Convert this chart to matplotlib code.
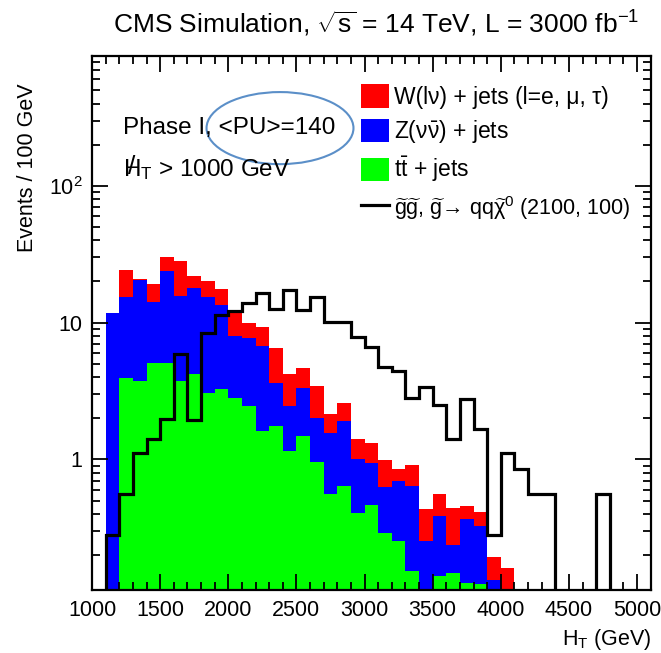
import numpy as np
import matplotlib
matplotlib.use('Agg')
import matplotlib.pyplot as plt
from matplotlib.patches import Patch, Ellipse
from matplotlib.lines import Line2D
from matplotlib.ticker import FixedLocator, LogLocator, MultipleLocator, NullFormatter

# HT binning: 100 GeV bins from 1000 to 5100 GeV
bin_edges = np.arange(1000, 5101, 100)

# Background yields per bin (events / 100 GeV)
ttbar = [0, 0, 3.91, 3.74, 5.03, 5.03, 3.74, 4.18, 3.07, 3.25,
         2.79, 2.46, 1.61, 1.76, 1.15, 1.49, 0.96, 0.555, 0.638, 0.403,
         0.463, 0.291, 0.254, 0.153, 0, 0.141, 0.148, 0.124, 0.122, 0,
         0, 0, 0, 0, 0, 0, 0, 0, 0, 0, 0]
zinv = [0, 11.8, 11.49, 16.76, 9.17, 18.77, 11.86, 13.82, 12.23, 10.15,
        5.18, 5.2, 5.12, 1.87, 1.30, 1.81, 1.05, 1.005, 1.267, 0.602,
        0.472, 0.333, 0.444, 0.488, 0.254, 0.244, 0.088, 0.24, 0.203, 0.131,
        0, 0, 0, 0, 0, 0, 0, 0, 0, 0, 0]
wjets = [0, 0, 8.8, 0.5, 4.9, 6.5, 12.7, 3.9, 4.9, 4.2,
         4.03, 2.31, 2.49, 2.91, 1.75, 1.33, 1.42, 0.58, 0.665, 0.395,
         0.385, 0.366, 0.147, 0.267, 0.177, 0.17, 0.207, 0.092, 0.085, 0.061,
         0.16, 0, 0, 0, 0, 0, 0, 0, 0, 0, 0]

# Gluino pair signal, m(gluino)=2100, m(LSP)=100
signal = [0, 0.28, 0.557, 1.12, 1.40, 1.96, 5.85, 1.94, 8.34, 11.3,
          12.2, 13.9, 16.5, 12.5, 17.3, 12.3, 15.4, 10.1, 10.1, 7.8,
          6.65, 4.75, 4.44, 2.79, 3.39, 2.49, 1.40, 2.78, 1.67, 0.28,
          1.12, 0.85, 0.557, 0.557, 0, 0, 0, 0.557, 0, 0, 0]

y_ticks = [1, 10, 100]
y_ticklabels = ['1', '10', '10$^{2}$']

plt.rcParams['font.family'] = ['Liberation Sans', 'DejaVu Sans']
plt.rcParams['mathtext.fontset'] = 'custom'
plt.rcParams['mathtext.rm'] = 'Liberation Sans'
plt.rcParams['mathtext.it'] = 'Liberation Sans:italic'
plt.rcParams['mathtext.bf'] = 'Liberation Sans:bold'
plt.rcParams['mathtext.default'] = 'regular'

fig = plt.figure(figsize=(6.61, 6.53), dpi=100)
ax = fig.add_axes([0.1392, 0.0965, 0.8452, 0.8177])

# stacked backgrounds: ttbar at the bottom, then Z, then W on top
tt_top = np.array(ttbar)
z_top = tt_top + np.array(zinv)
w_top = z_top + np.array(wjets)
ax.stairs(w_top, bin_edges, fill=True, color='#ff0000', lw=0)
ax.stairs(z_top, bin_edges, fill=True, color='#0000ff', lw=0)
ax.stairs(tt_top, bin_edges, fill=True, color='#00ff00', lw=0)
ax.stairs(signal, bin_edges, color='black', lw=2.3)

ax.set_yscale('log')
ax.set_xlim(1000, 5100)
ax.set_ylim(0.111, 890)

# ROOT-like ticks on all four sides
ax.xaxis.set_major_locator(MultipleLocator(500))
ax.xaxis.set_minor_locator(MultipleLocator(100))
ax.yaxis.set_major_locator(FixedLocator(y_ticks))
ax.set_yticklabels(y_ticklabels)
ax.yaxis.set_minor_locator(LogLocator(base=10, subs=np.arange(2, 10), numticks=20))
ax.yaxis.set_minor_formatter(NullFormatter())
ax.tick_params(which='both', direction='in', top=True, right=True, width=1.3,
               labelsize=15.5, pad=7)
ax.tick_params(which='major', length=11.5)
ax.tick_params(which='minor', length=6)
for sp in ax.spines.values():
    sp.set_linewidth(1.6)

ax.set_ylabel('Events / 100 GeV', fontsize=15.5, loc='top')
ax.yaxis.set_label_coords(-0.097, 0.948)
ax.set_xlabel('H$_{T}$ (GeV)', fontsize=15.5, loc='right')
ax.xaxis.set_label_coords(1.002, -0.07)

fig.text(0.569, 0.964, 'CMS Simulation, $\\sqrt{s}$ = 14 TeV, L = 3000 fb$^{-1}$',
         ha='center', va='center', fontsize=19)

ax.text(0.0555, 0.865, 'Phase I, <PU>=140', transform=ax.transAxes,
        fontsize=17.5, va='center')
ax.text(0.0555, 0.7865, 'H$_{T}$ > 1000 GeV', transform=ax.transAxes,
        fontsize=17.5, va='center')
ax.text(0.0716, 0.792, '/', transform=ax.transAxes, fontsize=19, ha='center',
        va='center')
ax.add_patch(Ellipse((0.3365, 0.865), 0.263, 0.135, transform=ax.transAxes,
                     fill=False, ec='#5b8fc8', lw=1.5))

handles = [
    Patch(fc='#ff0000', label='W(lν) + jets (l=e, μ, τ)'),
    Patch(fc='#0000ff', label='Z($\\nu\\bar{\\nu}$) + jets'),
    Patch(fc='#00ff00', label='t$\\bar{t}$ + jets'),
    Line2D([], [], color='black', lw=2.3,
           label='$\\widetilde{g}\\widetilde{g}$, $\\widetilde{g}$→ qq$\\widetilde{\\chi}^{0}$ (2100, 100)'),
]
leg = ax.legend(handles=handles, loc='upper left', bbox_to_anchor=(0.481, 0.947),
                frameon=False, fontsize=16.5, handlelength=1.22, handleheight=1.18,
                handletextpad=0.22, labelspacing=0.42, borderaxespad=0, borderpad=0)
leg.get_texts()[3].set_fontsize(15.5)

fig.savefig('out.png', dpi=100)
